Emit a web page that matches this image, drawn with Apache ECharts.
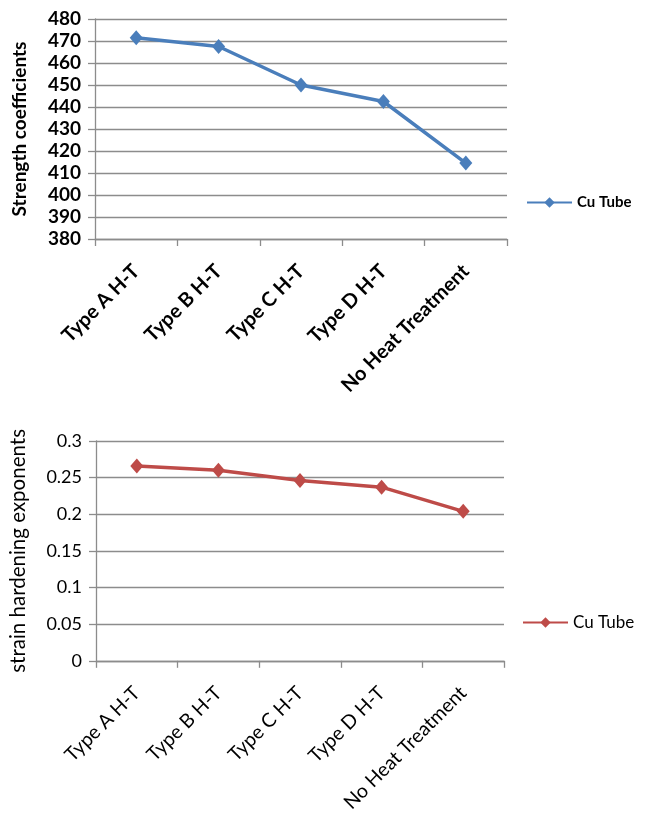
<!DOCTYPE html>
<html>
<head>
<meta charset="utf-8">
<script src="https://cdn.jsdelivr.net/npm/echarts@6/dist/echarts.min.js"></script>
<style>
  html, body { margin: 0; padding: 0; background: #fff; }
  #top { position: absolute; left: 0; top: 0; width: 646px; height: 410px; }
  #bottom { position: absolute; left: 0; top: 410px; width: 646px; height: 405px; }
</style>
</head>
<body>
<div id="top"></div>
<div id="bottom"></div>
<script>
// Heat-treatment conditions on the horizontal axis
const categories = ['Type A H-T', 'Type B H-T', 'Type C H-T', 'Type D H-T', 'No Heat Treatment'];
// Strength coefficient K (MPa) of the Cu tube
const strengthCoefficients = [471.5, 467.5, 450, 442.5, 414.5];
// Strain hardening exponent n of the Cu tube
const hardeningExponents = [0.266, 0.26, 0.246, 0.237, 0.204];
const seriesName = 'Cu Tube';

const FONT = 'Lato';
const gridColor = '#8c8c8c';

function buildOption(cfg) {
  return {
    animation: false,
    backgroundColor: '#fff',
    textStyle: { fontFamily: FONT },
    legend: {
      data: [seriesName],
      left: cfg.legendLeft,
      top: cfg.legendTop,
      itemWidth: 45,
      itemHeight: 13,
      itemGap: 2,
      textStyle: { color: '#000', fontSize: cfg.legendFont, fontWeight: cfg.weight, fontFamily: FONT }
    },
    grid: cfg.grid,
    xAxis: {
      type: 'category',
      data: categories,
      boundaryGap: true,
      axisLine: { lineStyle: { color: gridColor, width: 1.3 } },
      axisTick: { show: true, length: 7, lineStyle: { color: gridColor, width: 1.3 } },
      axisLabel: {
        rotate: 45, interval: 0, margin: 29,
        color: '#000', fontSize: cfg.catFont, fontWeight: cfg.weight, fontFamily: FONT
      }
    },
    yAxis: {
      type: 'value',
      min: cfg.min, max: cfg.max, interval: cfg.interval,
      name: cfg.title,
      nameLocation: 'middle',
      nameGap: cfg.nameGap,
      nameTextStyle: { color: '#000', fontSize: cfg.titleFont, fontWeight: cfg.weight, fontFamily: FONT },
      axisLine: { show: true, lineStyle: { color: gridColor, width: 1.3 } },
      axisTick: { show: true, length: 7, lineStyle: { color: gridColor, width: 1.3 } },
      splitLine: { lineStyle: { color: gridColor, width: 1.3 } },
      axisLabel: {
        margin: 14, color: '#000', fontSize: cfg.valFont, fontWeight: cfg.weight, fontFamily: FONT,
        formatter: cfg.fmt
      }
    },
    series: [{
      name: seriesName,
      type: 'line',
      data: cfg.data,
      symbol: 'diamond',
      symbolSize: [13, 15],
      lineStyle: { color: cfg.color, width: 3.5 },
      itemStyle: { color: cfg.color }
    }]
  };
}

const topChart = echarts.init(document.getElementById('top'), null, { renderer: 'canvas' });
topChart.setOption(buildOption({
  grid: { left: 95, top: 19, right: 139, height: 220 },
  min: 380, max: 480, interval: 10,
  title: 'Strength coefficients',
  nameGap: 66,
  data: strengthCoefficients,
  color: '#4a7ebb',
  weight: 'bold',
  valFont: 19, catFont: 20, titleFont: 19, legendFont: 15,
  legendLeft: 521, legendTop: 190,
  fmt: v => String(v)
}));

const bottomChart = echarts.init(document.getElementById('bottom'), null, { renderer: 'canvas' });
bottomChart.setOption(buildOption({
  grid: { left: 95, top: 31, right: 142, height: 222.6 },
  min: 0, max: 0.3, interval: 0.05,
  title: 'strain hardening exponents',
  nameGap: 67,
  data: hardeningExponents,
  color: '#be4b48',
  weight: 'normal',
  valFont: 18, catFont: 19.5, titleFont: 20.5, legendFont: 17,
  legendLeft: 517, legendTop: 199,
  fmt: v => String(Math.round(v * 100) / 100)
}));
</script>
</body>
</html>
